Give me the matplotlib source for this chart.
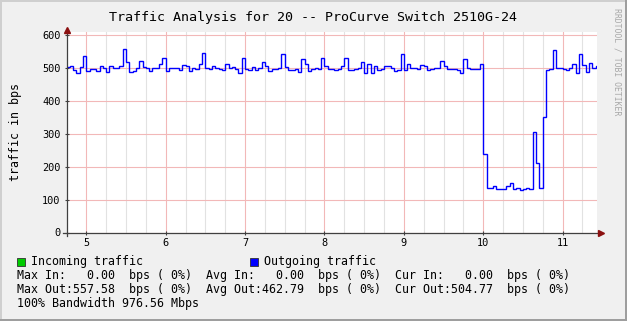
import numpy as np
import matplotlib
matplotlib.use("Agg")
import matplotlib.pyplot as plt
from matplotlib.patches import Rectangle
from matplotlib.ticker import MultipleLocator

# --- data ---
t_start = 4.75
t_step = 1 / 24
traffic_out = [
    502, 505, 494, 484, 503, 536, 490, 497, 497, 490, 505, 500, 487, 505, 500, 498,
    505, 557, 517, 487, 490, 498, 520, 502, 500, 490, 500, 498, 512, 530, 490, 498,
    500, 500, 492, 508, 505, 490, 498, 496, 510, 545, 500, 497, 505, 500, 497, 494,
    510, 500, 502, 495, 484, 528, 497, 494, 502, 492, 500, 517, 505, 490, 497, 495,
    500, 540, 502, 494, 494, 497, 487, 525, 510, 490, 497, 498, 497, 528, 505, 496,
    496, 494, 496, 505, 530, 494, 492, 497, 500, 517, 485, 510, 484, 505, 492, 497,
    505, 505, 498, 490, 492, 540, 492, 512, 498, 498, 496, 508, 505, 494, 495, 500,
    498, 520, 505, 497, 497, 495, 492, 485, 525, 500, 496, 497, 497, 512, 237, 134,
    135, 140, 133, 133, 131, 140, 150, 131, 134, 130, 132, 136, 131, 305, 210, 135,
    349, 493, 495, 553, 500, 500, 497, 493, 498, 511, 485, 540, 508, 487, 513, 500,
    505,
]
x_ticks = [5, 6, 7, 8, 9, 10, 11]
y_ticks = [0, 100, 200, 300, 400, 500, 600]

title = "Traffic Analysis for 20 -- ProCurve Switch 2510G-24"
y_label = "traffic in bps"
legend_names = ["Incoming traffic", "Outgoing traffic"]
legend_colors = ["#00CC00", "#0000FF"]
in_stats = [0.00, 0.00, 0.00]          # max, avg, cur
out_stats = [557.58, 462.79, 504.77]   # max, avg, cur
bandwidth = 976.56

W, H = 627, 321
plt.rcParams["font.family"] = ["DejaVu Sans Mono"]

fig = plt.figure(figsize=(W / 100, H / 100), dpi=100, facecolor="#F0F0F0")

# 3d frame
fig.add_artist(Rectangle((0, 1 - 2 / H), 1, 2 / H, transform=fig.transFigure, color="#CFCFCF", lw=0))
fig.add_artist(Rectangle((0, 0), 2 / W, 1, transform=fig.transFigure, color="#CFCFCF", lw=0))
fig.add_artist(Rectangle((1 - 2 / W, 0), 2 / W, 1, transform=fig.transFigure, color="#9E9E9E", lw=0))
fig.add_artist(Rectangle((0, 0), 1, 2 / H, transform=fig.transFigure, color="#9E9E9E", lw=0))

left, right, top, bottom = 67.3, 596.7, 32.3, 232.5
ax = fig.add_axes([left / W, 1 - bottom / H, (right - left) / W, (bottom - top) / H])
ax.set_facecolor("white")
ax.set_xlim(4.76, 11.43)
ax.set_ylim(0, 607)

edges = t_start + t_step * np.arange(len(traffic_out) + 1)
ax.stairs(traffic_out, edges, baseline=None, color=legend_colors[1], lw=1.0, zorder=3)

ax.set_xticks(x_ticks)
ax.set_xticklabels([str(v) for v in x_ticks])
ax.set_yticks(y_ticks)
ax.set_yticklabels([str(v) for v in y_ticks])
ax.xaxis.set_minor_locator(MultipleLocator(0.25))
ax.set_axisbelow(True)
ax.grid(which="minor", axis="x", color="#E2E2E2", lw=0.8)
ax.grid(which="major", color="#F2B8B8", lw=0.8)
ax.tick_params(which="major", direction="inout", length=3, width=0.8, color="#404040",
               labelsize=7.4)
ax.tick_params(axis="y", pad=3.5)
ax.tick_params(axis="x", pad=2.5)
ax.tick_params(which="minor", length=0)
for s in ax.spines.values():
    s.set_visible(False)

# axes with arrows
ax.plot([-0.008, 1.006], [0, 0], transform=ax.transAxes, color="#404040", lw=0.9,
        clip_on=False, zorder=5)
ax.plot([0, 0], [-0.0175, 1.012], transform=ax.transAxes, color="#404040", lw=0.9,
        clip_on=False, zorder=5)
ax.plot([1.0075], [0], transform=ax.transAxes, marker=">", ms=4.5, color="#8B1010",
        clip_on=False, zorder=6)
ax.plot([0], [1.01], transform=ax.transAxes, marker="^", ms=4.5, color="#8B1010",
        clip_on=False, zorder=6)

def px(x, y):
    return x / W, 1 - y / H

fig.text(*px(313, 17), title, ha="center", va="center", size=9.6)
fig.text(*px(16, 132), y_label, ha="center", va="center", rotation=90, size=8.4)
fig.text(*px(617, 62), "RRDTOOL / TOBI OETIKER", ha="center", va="center",
         rotation=270, size=5.9, color="#A8A8A8")

# legend
for name, col, x0 in zip(legend_names, legend_colors, [17, 250]):
    fig.add_artist(Rectangle(px(x0, 265.5), 8 / W, 8 / H, transform=fig.transFigure,
                             facecolor=col, edgecolor="#303030", lw=0.6))
    fig.text(*px(x0 + 14, 261.5), name, ha="left", va="center", size=8.4)

row_in = "Max In:%7.2f  bps ( 0%%)  Avg In:%7.2f  bps ( 0%%)  Cur In:%7.2f  bps ( 0%%)" % tuple(in_stats)
row_out = "Max Out:%6.2f  bps ( 0%%)  Avg Out:%6.2f  bps ( 0%%)  Cur Out:%6.2f  bps ( 0%%)" % tuple(out_stats)
fig.text(*px(17, 275.5), row_in, ha="left", va="center", size=8.4)
fig.text(*px(17, 289.5), row_out, ha="left", va="center", size=8.4)
fig.text(*px(17, 303.5), "100%% Bandwidth %.2f Mbps" % bandwidth, ha="left", va="center", size=8.4)

fig.savefig("out.png", dpi=100, facecolor=fig.get_facecolor())
